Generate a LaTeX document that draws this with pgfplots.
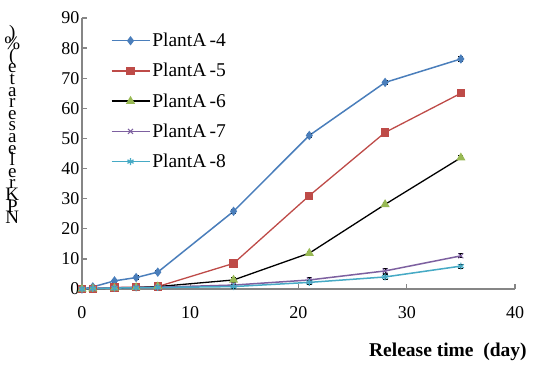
\documentclass[border=0pt]{standalone}
\usepackage{fontspec}
\setmainfont{Liberation Serif}
\usepackage{pgfplots}
\pgfplotsset{compat=1.18}
\definecolor{cblue}{HTML}{4A7EBB}
\definecolor{cred}{HTML}{BE4B48}
\definecolor{cgreen}{HTML}{98B954}
\definecolor{cpurple}{HTML}{7D60A0}
\definecolor{ccyan}{HTML}{46AAC5}
\definecolor{axgray}{HTML}{868686}
\newcommand\stk[1]{\hbox to 16bp{\hss\raisebox{0pt}[11.6bp][0pt]{#1}\hss}}
\begin{document}
\begin{tikzpicture}
\path[use as bounding box] (-82bp,-78bp) rectangle (451bp,289bp);
\begin{axis}[
  scale only axis, width=433bp, height=271bp,
  xmin=0, xmax=40, ymin=0, ymax=90,
  xtick={0,10,20,30,40}, ytick={0,10,...,90},
  axis lines=left,
  axis line style={axgray, line width=1.3bp, -},
  tick style={axgray, line width=1.3bp},
  major tick length=5bp,
  tick align=inside,
  /pgf/number format/assume math mode=true,
  tick label style={font=\fontsize{18bp}{20bp}\selectfont},
  yticklabel style={xshift=1bp},
  xticklabel style={yshift=-14bp},
  clip=false,
  xlabel={\textbf{Release time\ \ (day)}},
  xlabel style={at={(axis description cs:0.845,-0.232)}, anchor=center, font=\fontsize{19.5bp}{21bp}\selectfont},
  legend style={at={(axis description cs:0.066,0.952)}, anchor=north west, draw=none, fill=none,
    font=\fontsize{19.5bp}{21bp}\selectfont, row sep=11.2bp, inner sep=0pt},
  legend cell align=left,
  legend image code/.code={\draw[mark repeat=2,mark phase=2,#1] plot coordinates {(0bp,0bp) (19bp,0bp) (38bp,0bp)};},
  error bars/y dir=both, error bars/y explicit,
  error bars/error bar style={black, line width=1bp},
  error bars/error mark options={rotate=90, black, mark size=2.5bp, line width=1bp},
]
\addplot[cblue, line width=1.5bp, mark=diamond*, mark size=3.5bp, mark options={fill=cblue}] coordinates {
(0,0) +- (0,0.6) (1,0.7) +- (0,0.6) (3,2.7) +- (0,0.6) (5,3.8) +- (0,0.6) (7,5.6) +- (0,0.6)
(14,25.8) +- (0,0.7) (21,51.0) +- (0,0.7) (28,68.6) +- (0,0.7) (35,76.4) +- (0,0.7)};
\addlegendentry{PlantA\,-4}
\addplot[cred, line width=1.3bp, mark=square*, mark size=3.5bp, mark options={fill=cred}] coordinates {
(0,0) +- (0,0.6) (1,0.1) +- (0,0.6) (3,0.5) +- (0,0.6) (5,0.6) +- (0,0.6) (7,0.8) +- (0,0.6)
(14,8.5) +- (0,0.7) (21,31.0) +- (0,0.7) (28,52.0) +- (0,0.7) (35,65.0) +- (0,0.7)};
\addlegendentry{PlantA\,-5}
\addplot[black, line width=1.3bp, mark=triangle*, mark size=4bp, mark options={fill=cgreen, draw=cgreen}] coordinates {
(0,0) +- (0,0.6) (1,0.1) +- (0,0.6) (3,0.3) +- (0,0.6) (5,0.5) +- (0,0.6) (7,0.8) +- (0,0.6)
(14,3.0) +- (0,0.7) (21,11.9) +- (0,0.7) (28,28.1) +- (0,0.7) (35,43.6) +- (0,0.7)};
\addlegendentry{PlantA\,-6}
\addplot[cpurple, line width=1.5bp, mark=x, mark size=3.5bp, mark options={line width=1bp}] coordinates {
(0,0) +- (0,0.6) (1,0.2) +- (0,0.6) (3,0.4) +- (0,0.6) (5,0.5) +- (0,0.6) (7,0.6) +- (0,0.6)
(14,1.3) +- (0,0.7) (21,3.0) +- (0,0.7) (28,6.0) +- (0,0.7) (35,11.0) +- (0,0.7)};
\addlegendentry{PlantA\,-7}
\addplot[ccyan, line width=1.5bp, mark=asterisk, mark size=3.5bp, mark options={line width=1.2bp}] coordinates {
(0,0) +- (0,0.6) (1,0.2) +- (0,0.6) (3,0.3) +- (0,0.6) (5,0.4) +- (0,0.6) (7,0.5) +- (0,0.6)
(14,0.8) +- (0,0.7) (21,2.2) +- (0,0.7) (28,4.0) +- (0,0.7) (35,7.6) +- (0,0.7)};
\addlegendentry{PlantA\,-8}
\node[anchor=center, inner sep=0pt, font=\fontsize{19bp}{20bp}\selectfont]
  at (axis description cs:-0.161,0.605)
  {\vbox{\offinterlineskip\stk{)}\stk{\%}\stk{(}\stk{e}\stk{t}\stk{a}\stk{r}\stk{e}\stk{s}\stk{a}\stk{e}\stk{l}\stk{e}\stk{r}\stk{K}\stk{P}\stk{N}}};
\end{axis}
\end{tikzpicture}
\end{document}
